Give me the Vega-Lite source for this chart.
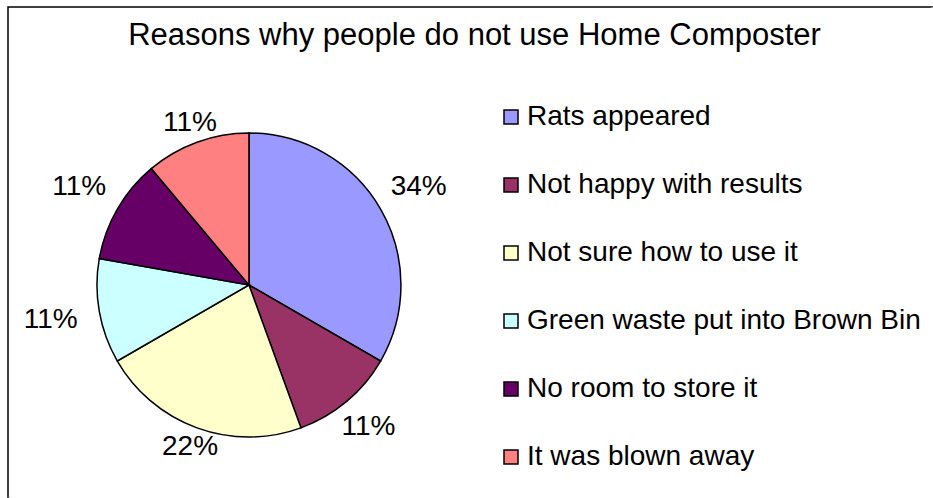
{
  "$schema": "https://vega.github.io/schema/vega-lite/v6.json",
  "width": 925,
  "height": 491,
  "autosize": {"type": "none"},
  "padding": {"left": 8, "top": 7, "right": 0, "bottom": 0},
  "background": "white",
  "config": {
    "view": {
      "stroke": {
        "gradient": "linear",
        "x1": 0, "y1": 0, "x2": 1, "y2": 1,
        "stops": [
          {"offset": 0, "color": "black"},
          {"offset": 0.499, "color": "black"},
          {"offset": 0.501, "color": "white"},
          {"offset": 1, "color": "white"}
        ]
      },
      "strokeWidth": 1.5
    },
    "font": "Liberation Sans"
  },
  "title": {
    "text": "Reasons why people do not use Home Composter",
    "font": "Liberation Sans",
    "fontSize": 31,
    "fontWeight": "normal",
    "color": "black",
    "anchor": "middle",
    "dx": 4,
    "offset": -45
  },
  "data": {
    "values": [
      {"reason": "Rats appeared", "count": 3, "label": "34%", "order": 1},
      {"reason": "Not happy with results", "count": 1, "label": "11%", "order": 2},
      {"reason": "Not sure how to use it", "count": 2, "label": "22%", "order": 3},
      {"reason": "Green waste put into Brown Bin", "count": 1, "label": "11%", "order": 4},
      {"reason": "No room to store it", "count": 1, "label": "11%", "order": 5},
      {"reason": "It was blown away", "count": 1, "label": "11%", "order": 6}
    ]
  },
  "encoding": {
    "theta": {"field": "count", "type": "quantitative", "stack": true},
    "order": {"field": "order", "type": "quantitative"},
    "x": {"datum": 26.05, "type": "quantitative", "scale": {"domain": [0, 100]}, "axis": null},
    "y": {"datum": 56.62, "type": "quantitative", "scale": {"domain": [0, 100], "reverse": true}, "axis": null}
  },
  "layer": [
    {
      "mark": {"type": "arc", "outerRadius": 152, "stroke": "black", "strokeWidth": 1.5},
      "encoding": {
        "color": {
          "field": "reason",
          "type": "nominal",
          "sort": ["Rats appeared", "Not happy with results", "Not sure how to use it", "Green waste put into Brown Bin", "No room to store it", "It was blown away"],
          "scale": {
            "domain": ["Rats appeared", "Not happy with results", "Not sure how to use it", "Green waste put into Brown Bin", "No room to store it", "It was blown away"],
            "range": ["#9999FF", "#993366", "#FFFFCC", "#CCFFFF", "#660066", "#FF8080"]
          },
          "legend": {
            "orient": "none",
            "legendX": 489,
            "legendY": 96,
            "title": null,
            "padding": 0,
            "symbolType": "square",
            "symbolSize": 196,
            "symbolStrokeColor": "black",
            "symbolStrokeWidth": 1.5,
            "symbolOpacity": 1,
            "labelFont": "Liberation Sans",
            "labelFontSize": 28,
            "labelColor": "black",
            "labelLimit": 600,
            "labelOffset": 2,
            "rowPadding": 40
          }
        }
      }
    },
    {
      "mark": {
        "type": "text",
        "radius": {"expr": "157 + 45 * abs(sin(scale('theta', 0.5 * datum['count_start'] + 0.5 * datum['count_end'])))"},
        "font": "Liberation Sans",
        "fontSize": 28,
        "color": "black",
        "align": "center",
        "baseline": "middle"
      },
      "encoding": {
        "text": {"field": "label", "type": "nominal"}
      }
    }
  ]
}
